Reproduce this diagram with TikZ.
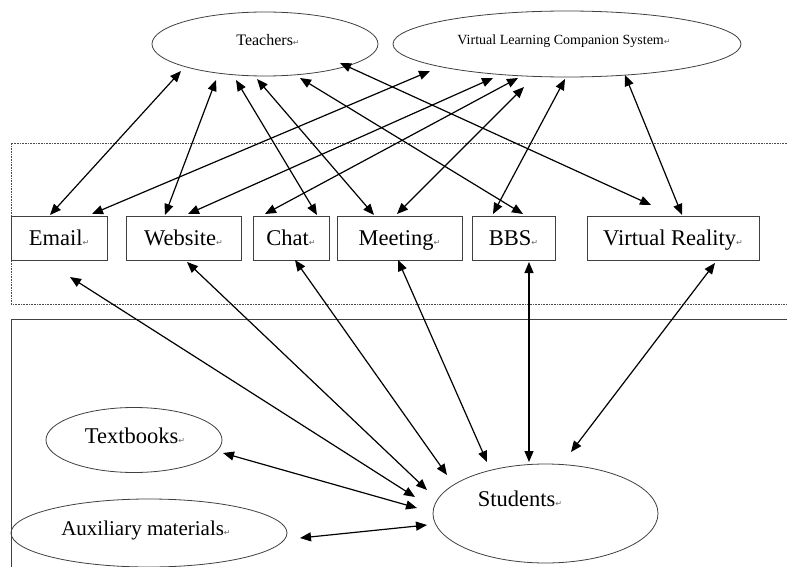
\documentclass[tikz,border=0pt]{standalone}
\usepackage{fontspec}
\setmainfont{Liberation Serif}
\newfontfamily\symfnt{DejaVu Sans}
\usetikzlibrary{shapes.geometric,arrows.meta,calc}
\newcommand\retmark{{\symfnt\fontsize{8}{8}\selectfont\textcolor{black!60}{↵}}}
\tikzset{
  boxnode/.style={draw=black!75, line width=0.9pt, rectangle, inner sep=0pt, outer sep=0pt,
    minimum height=44pt, font=\fontsize{22.5}{22.5}\selectfont, text height=15pt, text depth=0pt},
  ellnode/.style={draw=black!75, line width=0.8pt, ellipse, inner sep=0pt, outer sep=0pt},
  lbl/.style={anchor=base, inner sep=0pt},
  link/.style={line width=1.2pt, black, {Triangle[length=11pt,width=9pt]}-{Triangle[length=11pt,width=9pt]}},
  dotbox/.style={draw=black!70, line width=0.8pt, dash pattern=on 0.8pt off 0.8pt},
  solidbox/.style={draw=black!75, line width=0.9pt}
}
\begin{document}
\begin{tikzpicture}[x=1pt,y=-1pt]
\useasboundingbox (0,0) rectangle (787,567);
\clip (0,0) rectangle (787,567);
\fill[white] (0,0) rectangle (787,567);

% frames
\draw[dotbox] (800,143) -- (11,143) -- (11,304) -- (800,304);
\draw[solidbox] (800,319) -- (11,319) -- (11,580);

% ellipses
\node[ellnode, minimum width=226pt, minimum height=64pt] (teach) at (265,44) {};
\node[lbl, font=\fontsize{16}{16}\selectfont] (teachT) at (268,46) {Teachers\retmark};
\node[ellnode, minimum width=348pt, minimum height=66pt] (vlcs) at (567,44) {};
\node[lbl, font=\fontsize{14}{14}\selectfont] (vlcsT) at (564,45) {Virtual Learning Companion System\retmark};

\node[ellnode, minimum width=176pt, minimum height=65pt] (text) at (134,440) {};
\node[lbl, font=\fontsize{22.5}{22.5}\selectfont] (textT) at (135,443) {Textbooks\retmark};
\node[ellnode, minimum width=276pt, minimum height=68pt] (aux) at (149,533) {};
\node[lbl, font=\fontsize{21}{21}\selectfont] (auxT) at (146,535) {Auxiliary materials\retmark};
\node[ellnode, minimum width=225pt, minimum height=99pt] (stud) at (545.5,513.5) {};
\node[lbl, font=\fontsize{22.5}{22.5}\selectfont] (studT) at (520,506) {Students\retmark};

% boxes
\node[boxnode, minimum width=96pt] (email) at (59,238) {Email\retmark};
\node[boxnode, minimum width=115pt] (web) at (183.5,238) {Website\retmark};
\node[boxnode, minimum width=76pt] (chat) at (291,238) {Chat\retmark};
\node[boxnode, minimum width=125pt] (meet) at (399.5,238) {Meeting\retmark};
\node[boxnode, minimum width=83pt] (bbs) at (513.5,238) {BBS\retmark};
\node[boxnode, minimum width=172pt] (vr) at (673,238) {Virtual Reality\retmark};

% Teachers links
\draw[link] ($(teach.center)+(-84,27)$) -- ($(email.north west)+(39,-1)$);
\draw[link] ($(teach.center)+(-49,36)$) -- ($(web.north west)+(39,-1)$);
\draw[link] ($(teach.center)+(-29,36)$) -- ($(chat.north west)+(64,-1)$);
\draw[link] ($(teach.center)+(-8,35)$) -- ($(meet.north west)+(37,-1)$);
\draw[link] ($(teach.center)+(35,34)$) -- ($(bbs.north west)+(51,-2)$);
\draw[link] ($(teach.center)+(75,19)$) -- ($(vr.north west)+(64,-11)$);

% VLCS links
\draw[link] ($(vlcs.center)+(-137,27)$) -- ($(email.north west)+(81,-2)$);
\draw[link] ($(vlcs.center)+(-74,34)$) -- ($(web.north west)+(62,-2)$);
\draw[link] ($(vlcs.center)+(-49,34)$) -- ($(chat.north west)+(12,-2)$);
\draw[link] ($(vlcs.center)+(-43,43)$) -- ($(meet.north west)+(60,-2)$);
\draw[link] ($(vlcs.center)+(-2,35)$) -- ($(bbs.north west)+(21,-2)$);
\draw[link] ($(vlcs.center)+(58,31)$) -- ($(vr.north west)+(95,-1)$);

% Students links
\draw[link] ($(email.south west)+(59,17)$) -- ($(stud.center)+(-130.5,-16.5)$);
\draw[link] ($(web.south west)+(61,2)$) -- ($(stud.center)+(-118.5,-23.5)$);
\draw[link] ($(chat.south west)+(42,0)$) -- ($(stud.center)+(-98.5,-38.5)$);
\draw[link] ($(meet.south west)+(61,0)$) -- ($(stud.center)+(-58.5,-51.5)$);
\draw[link] ($(bbs.south west)+(57,2)$) -- ($(stud.center)+(-16.5,-51.5)$);
\draw[link] ($(vr.south west)+(128,3)$) -- ($(stud.center)+(25.5,-61.5)$);
\draw[link] ($(text.center)+(89,13)$) -- ($(stud.center)+(-128.5,-5.5)$);
\draw[link] ($(aux.center)+(151,5)$) -- ($(stud.center)+(-118.5,11.5)$);
\end{tikzpicture}
\end{document}
